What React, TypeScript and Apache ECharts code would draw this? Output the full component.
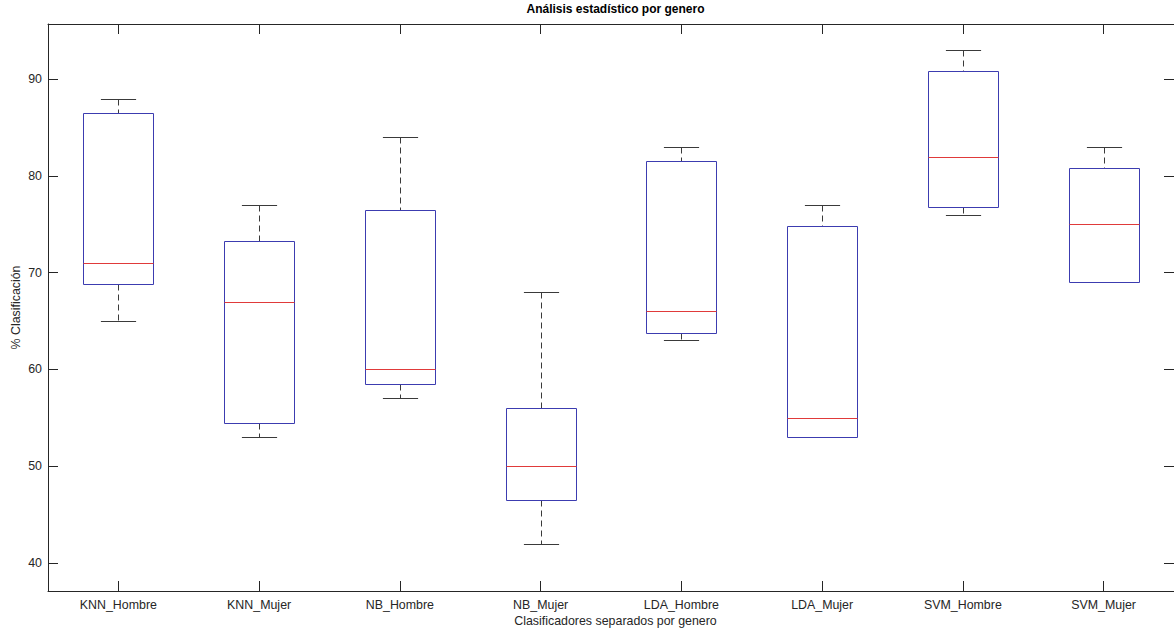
import React, { useEffect, useRef } from "react";
import * as echarts from "echarts";

const categories = [
  "KNN_Hombre",
  "KNN_Mujer",
  "NB_Hombre",
  "NB_Mujer",
  "LDA_Hombre",
  "LDA_Mujer",
  "SVM_Hombre",
  "SVM_Mujer",
];
const lowerWhisker = [65, 53, 57, 42, 63, 53, 76, 69];
const q1 = [68.8, 54.5, 58.5, 46.5, 63.8, 53, 76.8, 69];
const median = [71, 67, 60, 50, 66, 55, 82, 75];
const q3 = [86.5, 73.3, 76.5, 56, 81.5, 74.8, 90.8, 80.8];
const upperWhisker = [88, 77, 84, 68, 83, 77, 93, 83];

const titleText = "Análisis estadístico por genero";
const xName = "Clasificadores separados por genero";
const yName = "% Clasificación";

const FONT = "'Liberation Sans', Arial, Helvetica, sans-serif";
const AXIS_COLOR = "#262626";
const BOX_COLOR = "#3c3cb0";
const MED_COLOR = "#e03a3a";
const WHISK_COLOR = "#3a3a3a";

export default function App() {
  const ref = useRef<HTMLDivElement>(null);

  useEffect(() => {
    if (!ref.current) return;
    const chart = echarts.init(ref.current, undefined, { renderer: "svg" });

    const data = categories.map((_, i) => [
      i,
      lowerWhisker[i],
      q1[i],
      median[i],
      q3[i],
      upperWhisker[i],
    ]);

    const gridLeft = 48;
    const gridTop = 24;
    const gridWidth = 1135;
    const gridHeight = 567;

    const axisLine = { show: true, lineStyle: { color: AXIS_COLOR, width: 1 } };
    const yLabelFmt = (v: number) =>
      Math.abs(v - Math.round(v / 10) * 10) < 1e-6 ? String(Math.round(v)) : "";

    const option: any = {
      animation: false,
      backgroundColor: "#ffffff",
      grid: { left: gridLeft, top: gridTop, width: gridWidth, height: gridHeight },
      xAxis: [
        {
          type: "category",
          data: categories,
          position: "bottom",
          boundaryGap: true,
          axisLine,
          axisTick: {
            show: true,
            inside: true,
            length: 10,
            alignWithLabel: true,
            interval: 0,
            lineStyle: { color: AXIS_COLOR },
          },
          axisLabel: {
            interval: 0,
            color: AXIS_COLOR,
            fontFamily: FONT,
            fontSize: 12.4,
            margin: 8,
          },
          splitLine: { show: false },
        },
        {
          type: "category",
          data: categories,
          position: "top",
          boundaryGap: true,
          axisLine,
          axisTick: {
            show: true,
            inside: true,
            length: 10,
            alignWithLabel: true,
            interval: 0,
            lineStyle: { color: AXIS_COLOR },
          },
          axisLabel: { show: false },
          splitLine: { show: false },
        },
      ],
      yAxis: [
        {
          type: "value",
          min: 37.1,
          max: 95.7,
          splitNumber: 5,
          position: "left",
          axisLine,
          axisTick: { show: true, inside: true, length: 10, lineStyle: { color: AXIS_COLOR } },
          axisLabel: {
            color: AXIS_COLOR,
            fontFamily: FONT,
            fontSize: 12.4,
            margin: 6,
            showMinLabel: false,
            showMaxLabel: false,
            formatter: yLabelFmt,
          },
          splitLine: { show: false },
        },
        {
          type: "value",
          min: 37.1,
          max: 95.7,
          splitNumber: 5,
          position: "right",
          axisLine,
          axisTick: { show: true, inside: true, length: 10, lineStyle: { color: AXIS_COLOR } },
          axisLabel: { show: false },
          splitLine: { show: false },
        },
      ],
      graphic: [
        {
          type: "text",
          x: gridLeft + gridWidth / 2,
          y: 9,
          style: {
            text: titleText,
            fill: "#000000",
            font: `bold 12px ${FONT}`,
            align: "center",
            verticalAlign: "middle",
          },
        },
        {
          type: "text",
          x: gridLeft + gridWidth / 2,
          y: 621,
          style: {
            text: xName,
            fill: AXIS_COLOR,
            font: `12.4px ${FONT}`,
            align: "center",
            verticalAlign: "middle",
          },
        },
        {
          type: "text",
          x: 16,
          y: gridTop + gridHeight / 2,
          rotation: Math.PI / 2,
          style: {
            text: yName,
            fill: AXIS_COLOR,
            font: `12.4px ${FONT}`,
            align: "center",
            verticalAlign: "middle",
          },
        },
      ],
      series: [
        {
          type: "custom",
          xAxisIndex: 0,
          yAxisIndex: 0,
          data,
          encode: { x: 0, y: [1, 2, 3, 4, 5] },
          renderItem: (params: any, api: any) => {
            const xi = api.value(0);
            const band = api.size([1, 0])[0];
            const boxW = band * 0.5;
            const capW = band * 0.25;
            const pLow = api.coord([xi, api.value(1)]);
            const pQ1 = api.coord([xi, api.value(2)]);
            const pMed = api.coord([xi, api.value(3)]);
            const pQ3 = api.coord([xi, api.value(4)]);
            const pHigh = api.coord([xi, api.value(5)]);
            const cx = Math.round(pMed[0]) + 0.5;
            const snap = (y: number) => Math.round(y) + 0.5;
            const dash = { stroke: WHISK_COLOR, lineWidth: 1, lineDash: [6, 4] };
            const solid = { stroke: WHISK_COLOR, lineWidth: 1 };
            const children: any[] = [];
            children.push({
              type: "line",
              shape: { x1: cx, y1: snap(pHigh[1]), x2: cx, y2: snap(pQ3[1]) },
              style: dash,
            });
            children.push({
              type: "line",
              shape: { x1: cx, y1: snap(pQ1[1]), x2: cx, y2: snap(pLow[1]) },
              style: dash,
            });
            children.push({
              type: "line",
              shape: { x1: cx - capW / 2, y1: snap(pHigh[1]), x2: cx + capW / 2, y2: snap(pHigh[1]) },
              style: solid,
            });
            children.push({
              type: "line",
              shape: { x1: cx - capW / 2, y1: snap(pLow[1]), x2: cx + capW / 2, y2: snap(pLow[1]) },
              style: solid,
            });
            const top = snap(pQ3[1]);
            const bot = snap(pQ1[1]);
            children.push({
              type: "rect",
              shape: { x: Math.round(cx - boxW / 2) + 0.5, y: top, width: Math.round(boxW), height: bot - top },
              style: { stroke: BOX_COLOR, fill: "none", lineWidth: 1 },
            });
            children.push({
              type: "line",
              shape: {
                x1: Math.round(cx - boxW / 2) + 0.5,
                y1: snap(pMed[1]),
                x2: Math.round(cx - boxW / 2) + 0.5 + Math.round(boxW),
                y2: snap(pMed[1]),
              },
              style: { stroke: MED_COLOR, lineWidth: 1 },
            });
            return { type: "group", children };
          },
        },
      ],
    };

    chart.setOption(option);
    return () => chart.dispose();
  }, []);

  return (
    <div
      ref={ref}
      style={{ position: "absolute", left: 0, top: 0, width: 1174, height: 631, background: "#fff" }}
    />
  );
}
